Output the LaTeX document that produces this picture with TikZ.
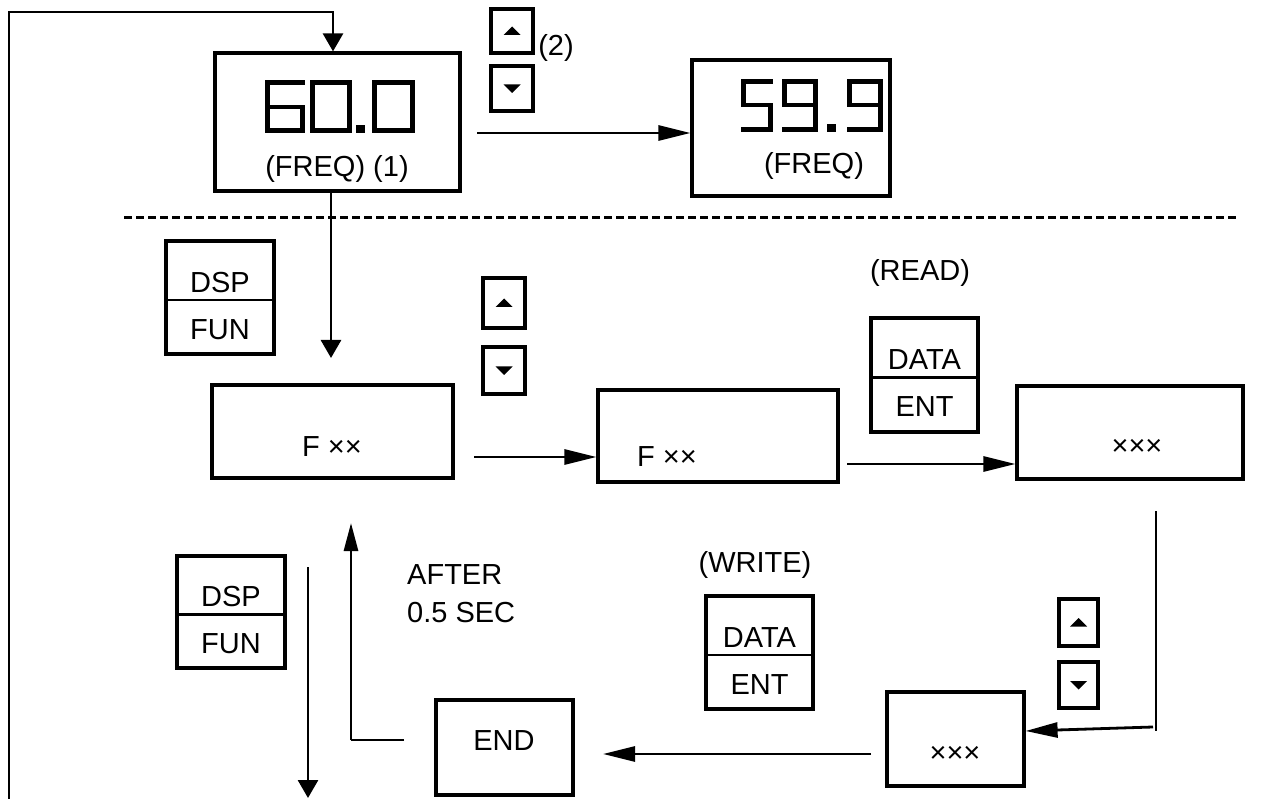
\documentclass[tikz,border=0pt]{standalone}
\usepackage{fontspec}
\setmainfont{Liberation Sans}
\usetikzlibrary{arrows.meta,calc}
\tikzset{
  ln/.style={line width=2.8pt},
  box/.style={draw,line width=3.2pt,inner sep=0pt,rectangle},
  txt/.style={inner sep=0pt,font=\fontsize{29}{33}\selectfont},
  seg/.style={line width=4.5pt,line cap=rect,line join=miter},
  tipA/.tip={Triangle[width=20pt,length=18pt]},
  tipB/.tip={Triangle[width=15pt,length=32pt]},
  tipC/.tip={Triangle[width=14pt,length=28pt]},
}
\newcommand{\mkbox}[5]{% name, x1,y1,x2,y2
  \node[box,minimum width={#4-#2},minimum height={#5-#3}] (#1) at ({(#2+#4)/2},{(#3+#5)/2}) {};}
\newcommand{\splitkey}[7]{% name x1 y1 x2 y2 top bottom
  \mkbox{#1}{#2}{#3}{#4}{#5}
  \draw[line width=2.8pt] ($(#1.west)+(4,2.5)$) -- ($(#1.east)+(-4,2.5)$);
  \node[txt] (#1t) at ($(#1.center)+(0,-15)$) {#6};
  \node[txt] (#1b) at ($(#1.center)+(0,32)$) {#7};}
\newcommand{\upkey}[5]{%
  \mkbox{#1}{#2}{#3}{#4}{#5}
  \fill ($(#1.center)+(-8.5,4)$) -- ($(#1.center)+(8.5,4)$) -- ($(#1.center)+(0,-4.5)$) -- cycle;}
\newcommand{\downkey}[5]{%
  \mkbox{#1}{#2}{#3}{#4}{#5}
  \fill ($(#1.center)+(-8.5,-4)$) -- ($(#1.center)+(8.5,-4)$) -- ($(#1.center)+(0,4.5)$) -- cycle;}
\begin{document}
\begin{tikzpicture}[x=1pt,y=-1pt]
\useasboundingbox[fill=white] (0,0) rectangle (1264,799);

% boxes
\mkbox{top60}{215}{53}{460}{191}
\mkbox{top59}{692}{60}{890}{196}
\mkbox{F1}{212}{385}{453}{478}
\mkbox{F2}{598}{390}{838}{482}
\mkbox{X1}{1017}{386}{1243}{479}
\mkbox{X2}{887}{692}{1024}{786}
\mkbox{END}{436}{700}{573}{795}

% keys
\upkey{up1}{491}{9}{533}{53}
\downkey{dn1}{491}{66}{533}{111}
\upkey{up2}{483}{278}{525}{328}
\downkey{dn2}{483}{347}{525}{394}
\upkey{up3}{1059}{599}{1098}{646}
\downkey{dn3}{1059}{662}{1098}{708}

\splitkey{dsp1}{166}{241}{274}{354}{DSP}{FUN}
\splitkey{dsp2}{177}{556}{285}{668}{DSP}{FUN}
\splitkey{dat1}{871}{318}{978}{432}{DATA}{ENT}
\splitkey{dat2}{706}{596}{813}{709}{DATA}{ENT}

% seven-segment digits 60.0
\draw[seg] (302.5,82.5) -- (267.5,82.5) -- (267.5,130.5) -- (302.5,130.5) -- (302.5,107) -- (267.5,107);
\draw[seg] (312.5,82.5) rectangle (349.5,130.5);
\fill (356,125) rectangle (365,133);
\draw[seg] (374.5,82.5) rectangle (412.5,130.5);
% 59.9
\draw[seg] (770.5,81.5) -- (743.5,81.5) -- (743.5,105) -- (770.5,105) -- (770.5,129.5) -- (743.5,129.5);
\draw[seg] (815.5,105) -- (784.5,105) -- (784.5,81.5) -- (815.5,81.5) -- (815.5,129.5) -- (784.5,129.5);
\fill (827,124) rectangle (836,132);
\draw[seg] (880.5,105) -- (849.5,105) -- (849.5,81.5) -- (880.5,81.5) -- (880.5,129.5) -- (849.5,129.5);

% texts
\node[txt] (freq1) at (337,169) {(FREQ) (1)};
\node[txt] (freq2) at (814,166) {(FREQ)};
\node[txt] (two) at (556,48) {(2)};
\node[txt] (read) at (920,273) {(READ)};
\node[txt] (write) at (755,565) {(WRITE)};
\node[txt] (f1t) at (332,447) {F ××};
\node[txt] (f2t) at (667,457) {F ××};
\node[txt] (x1t) at (1137,447) {×××};
\node[txt] (x2t) at (955,754) {×××};
\node[txt] (endt) at (504,741) {END};
\node[txt,anchor=west] (after) at (407,575) {AFTER};
\node[txt,anchor=west] (sec) at (407,613) {0.5 SEC};

% dashed separator
\coordinate (dl) at (124,218);
\coordinate (dr) at (1238,218);
\draw[line width=3pt,dash pattern=on 8pt off 4pt] (dl) -- (dr);

% connectors
\coordinate (loopstart) at (9,799);
\coordinate (loopc) at (333,12);
\draw[ln,-tipA] (loopstart) |- (loopc) -- (loopc |- top60.north);

\coordinate (a2s) at (477,133);
\draw[ln,-tipB] (a2s) -- (a2s -| top59.west);

\coordinate (a3e) at (331,358);
\draw[ln,-tipA] (top60.south -| a3e) -- (a3e);

\coordinate (a4s) at (474,457);
\draw[ln,-tipB] (a4s) -- (a4s -| F2.west);

\coordinate (a5s) at (847,464);
\draw[ln,-tipB] (a5s) -- (a5s -| X1.west);

\coordinate (r1) at (1156,511);
\coordinate (r2) at (1156,731);
\draw[ln] (r1) -- (r2);
\coordinate (r3) at (1153,727);
\draw[ln,-tipB] (r3) -- (X2.east |- 0,731);

\coordinate (a7s) at (871,754);
\coordinate (a7e) at (603,754);
\draw[ln,-tipB] (a7s) -- (a7e);

\coordinate (a8s) at (404,740);
\coordinate (a8c) at (351,740);
\coordinate (a8e) at (351,523);
\draw[ln] (a8s) -- (a8c);
\draw[ln,-tipC] (a8c) -- (a8e);

\coordinate (a9s) at (308,567);
\coordinate (a9e) at (308,798);
\draw[ln,-tipA] (a9s) -- (a9e);
\end{tikzpicture}
\end{document}
